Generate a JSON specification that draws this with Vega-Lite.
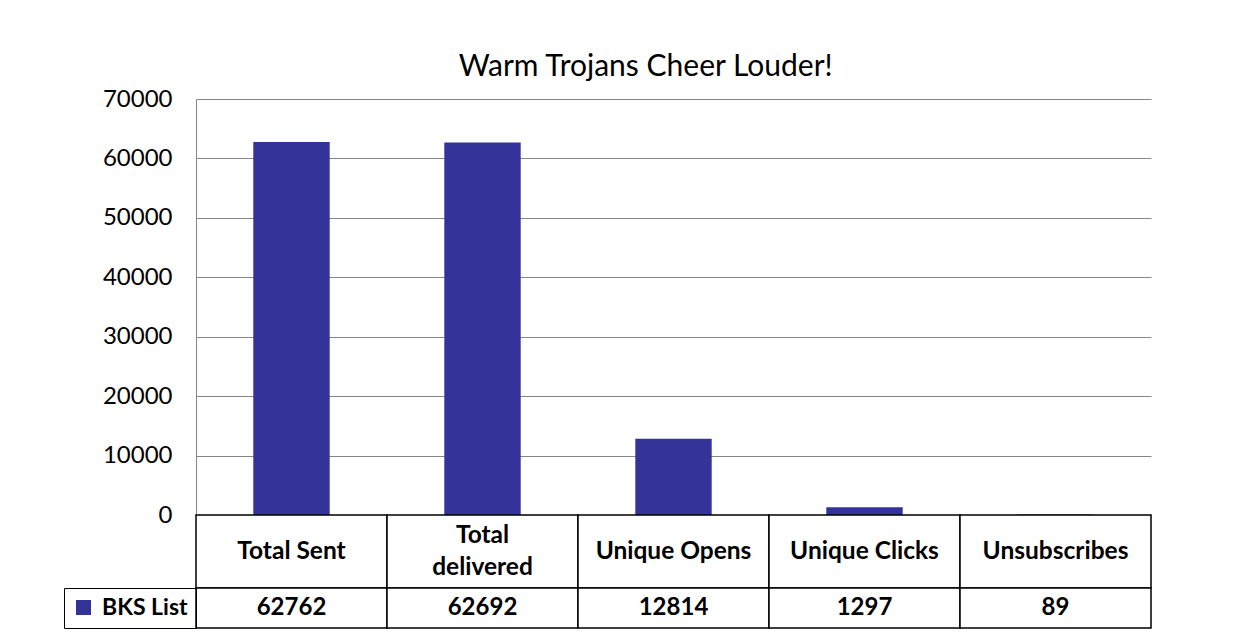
{
  "$schema": "https://vega.github.io/schema/vega-lite/v6.json",
  "padding": {"left": 63, "top": 52, "right": 5, "bottom": 5},
  "background": "white",
  "title": {"text": "Warm Trojans Cheer Louder!", "anchor": "middle", "font": "Lato", "fontSize": 30, "fontWeight": "normal", "color": "black", "dx": 38, "offset": 5},
  "data": {"values": [
    {"metric": "Total Sent", "label": "Total Sent", "series": "BKS List", "value": 62762},
    {"metric": "Total delivered", "label": "Total\ndelivered", "series": "BKS List", "value": 62692},
    {"metric": "Unique Opens", "label": "Unique Opens", "series": "BKS List", "value": 12814},
    {"metric": "Unique Clicks", "label": "Unique Clicks", "series": "BKS List", "value": 1297},
    {"metric": "Unsubscribes", "label": "Unsubscribes", "series": "BKS List", "value": 89}
  ]},
  "spacing": 0,
  "bounds": "flush",
  "resolve": {"scale": {"color": "independent"}, "legend": {"color": "independent"}},
  "vconcat": [
    {
      "width": 955, "height": 416,
      "mark": {"type": "bar", "color": "#333399"},
      "encoding": {
        "x": {"field": "metric", "type": "nominal", "sort": null, "axis": null, "scale": {"paddingInner": 0.6, "paddingOuter": 0.3}},
        "y": {"field": "value", "type": "quantitative", "scale": {"domain": [0, 70000], "nice": false},
          "axis": {"values": [0, 10000, 20000, 30000, 40000, 50000, 60000, 70000], "format": "d", "title": null, "ticks": false,
            "labelFont": "Lato", "labelFontSize": 24, "labelColor": "black", "labelPadding": 24,
            "gridColor": "#868686", "gridOpacity": 1, "domainColor": "#868686"}}
      }
    },
    {
      "width": 955, "height": 73,
      "layer": [
        {
          "mark": {"type": "rect", "fill": "white", "stroke": "black", "strokeWidth": 1.5},
          "encoding": {"x": {"field": "metric", "type": "nominal", "sort": null, "axis": null, "scale": {"paddingInner": 0, "paddingOuter": 0}}}
        },
        {
          "transform": [{"filter": "indexof(datum.label, '\\n') < 0"}],
          "mark": {"type": "text", "font": "Lato", "fontSize": 24.5, "fontWeight": "bold", "color": "black", "baseline": "middle"},
          "encoding": {
            "x": {"field": "metric", "type": "nominal", "sort": null, "axis": null},
            "text": {"field": "label", "type": "nominal"}
          }
        },
        {
          "transform": [{"filter": "indexof(datum.label, '\\n') >= 0"}],
          "mark": {"type": "text", "font": "Lato", "fontSize": 24.5, "fontWeight": "bold", "lineBreak": "\n", "lineHeight": 32, "dy": -16, "color": "black", "baseline": "middle"},
          "encoding": {
            "x": {"field": "metric", "type": "nominal", "sort": null, "axis": null},
            "text": {"field": "label", "type": "nominal"}
          }
        }
      ]
    },
    {
      "width": 955, "height": 40,
      "layer": [
        {
          "mark": {"type": "rect", "fill": "white", "stroke": "black", "strokeWidth": 1.5},
          "encoding": {"x": {"field": "metric", "type": "nominal", "sort": null, "axis": null, "scale": {"paddingInner": 0, "paddingOuter": 0}}}
        },
        {
          "mark": {"type": "square", "opacity": 0},
          "encoding": {
            "x": {"field": "metric", "type": "nominal", "sort": null, "axis": null},
            "color": {"field": "series", "type": "nominal", "scale": {"range": ["#333399"]},
              "legend": {"orient": "left", "title": null, "symbolType": "square", "symbolSize": 225, "symbolOpacity": 1, "symbolStrokeWidth": 0,
                "labelFont": "Lato", "labelFontSize": 23, "labelFontWeight": "bold", "labelColor": "black",
                "strokeColor": "black", "padding": 8, "offset": 0, "labelOffset": 7}}
          }
        },
        {
          "mark": {"type": "text", "font": "Lato", "fontSize": 24, "fontWeight": "bold", "color": "black", "baseline": "middle"},
          "encoding": {
            "x": {"field": "metric", "type": "nominal", "sort": null, "axis": null},
            "text": {"field": "value", "type": "quantitative", "format": "d"}
          }
        }
      ]
    }
  ],
  "config": {"view": {"stroke": null}}
}
